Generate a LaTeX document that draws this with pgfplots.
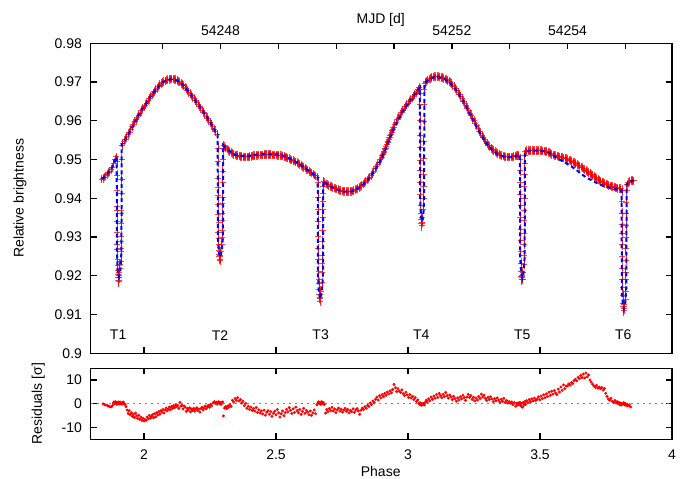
\documentclass[border=0pt]{standalone}
\usepackage{fontspec}
\setmainfont{Liberation Sans}
\usepackage{pgfplots}
\usepackage{pgfplotstable}
\pgfplotsset{compat=1.18}

% observed light curve: phase, relative brightness, error
\pgfplotstableread{
x y e
1.840 0.9450 0.0004
1.845 0.9452 0.0004
1.850 0.9455 0.0004
1.855 0.9458 0.0004
1.860 0.9462 0.0004
1.865 0.9466 0.0004
1.870 0.9469 0.0004
1.875 0.9474 0.0004
1.880 0.9480 0.0004
1.885 0.9490 0.0004
1.890 0.9500 0.0004
1.894 0.9507 0.0004
1.8980 0.9495 0.0006
1.8985 0.9460 0.0006
1.8975 0.9420 0.0006
1.8985 0.9378 0.0006
1.8980 0.9368 0.0006
1.8990 0.9340 0.0006
1.8985 0.9312 0.0006
1.8990 0.9282 0.0006
1.8995 0.9268 0.0006
1.9000 0.9242 0.0006
1.9005 0.9226 0.0006
1.9010 0.9214 0.0006
1.9020 0.9204 0.0006
1.9030 0.9196 0.0006
1.9035 0.9188 0.0006
1.9040 0.9200 0.0006
1.9050 0.9210 0.0006
1.9045 0.9185 0.0006
1.9060 0.9195 0.0006
1.9070 0.9220 0.0006
1.9080 0.9230 0.0006
1.9130 0.9238 0.0006
1.9135 0.9262 0.0006
1.9140 0.9272 0.0006
1.9130 0.9288 0.0006
1.9140 0.9302 0.0006
1.9135 0.9336 0.0006
1.9145 0.9362 0.0006
1.9140 0.9368 0.0006
1.9150 0.9412 0.0006
1.9150 0.9450 0.0006
1.9155 0.9500 0.0006
1.917 0.9536 0.0004
1.920 0.9542 0.0004
1.925 0.9548 0.0004
1.930 0.9553 0.0004
1.935 0.9559 0.0004
1.940 0.9565 0.0004
1.945 0.9571 0.0004
1.950 0.9577 0.0004
1.955 0.9585 0.0004
1.960 0.9592 0.0004
1.965 0.9598 0.0004
1.970 0.9603 0.0004
1.975 0.9609 0.0004
1.980 0.9614 0.0004
1.985 0.9620 0.0004
1.990 0.9626 0.0004
1.995 0.9631 0.0004
2.000 0.9636 0.0004
2.005 0.9641 0.0004
2.010 0.9646 0.0004
2.015 0.9652 0.0004
2.020 0.9657 0.0004
2.025 0.9662 0.0004
2.030 0.9667 0.0004
2.035 0.9672 0.0004
2.040 0.9676 0.0004
2.045 0.9680 0.0004
2.050 0.9684 0.0004
2.055 0.9689 0.0004
2.060 0.9693 0.0004
2.065 0.9696 0.0004
2.070 0.9699 0.0004
2.075 0.9701 0.0004
2.080 0.9703 0.0004
2.085 0.9705 0.0004
2.090 0.9706 0.0004
2.095 0.9707 0.0004
2.100 0.9708 0.0004
2.105 0.9708 0.0004
2.110 0.9708 0.0004
2.115 0.9707 0.0004
2.120 0.9706 0.0004
2.125 0.9704 0.0004
2.130 0.9702 0.0004
2.135 0.9700 0.0004
2.140 0.9697 0.0004
2.145 0.9694 0.0004
2.150 0.9691 0.0004
2.155 0.9687 0.0004
2.160 0.9683 0.0004
2.165 0.9678 0.0004
2.170 0.9674 0.0004
2.175 0.9670 0.0004
2.180 0.9666 0.0004
2.185 0.9661 0.0004
2.190 0.9657 0.0004
2.195 0.9652 0.0004
2.200 0.9648 0.0004
2.205 0.9643 0.0004
2.210 0.9638 0.0004
2.215 0.9633 0.0004
2.220 0.9628 0.0004
2.225 0.9623 0.0004
2.230 0.9618 0.0004
2.235 0.9612 0.0004
2.240 0.9607 0.0004
2.245 0.9602 0.0004
2.250 0.9597 0.0004
2.255 0.9591 0.0004
2.260 0.9585 0.0004
2.265 0.9579 0.0004
2.270 0.9572 0.0004
2.277 0.9565 0.0004
2.2805 0.9530 0.0006
2.2810 0.9495 0.0006
2.2800 0.9452 0.0006
2.2815 0.9428 0.0006
2.2810 0.9408 0.0006
2.2820 0.9385 0.0006
2.2815 0.9358 0.0006
2.2825 0.9338 0.0006
2.2820 0.9312 0.0006
2.2830 0.9296 0.0006
2.2835 0.9280 0.0006
2.2840 0.9266 0.0006
2.2850 0.9256 0.0006
2.2860 0.9250 0.0006
2.2870 0.9243 0.0006
2.2880 0.9240 0.0006
2.2890 0.9252 0.0006
2.2900 0.9262 0.0006
2.2950 0.9282 0.0006
2.2960 0.9298 0.0006
2.2955 0.9318 0.0006
2.2965 0.9342 0.0006
2.2960 0.9362 0.0006
2.2970 0.9388 0.0006
2.2975 0.9402 0.0006
2.2980 0.9442 0.0006
2.2985 0.9470 0.0006
2.2990 0.9500 0.0006
2.2995 0.9528 0.0006
2.302 0.9537 0.0004
2.306 0.9533 0.0004
2.310 0.9530 0.0004
2.315 0.9527 0.0004
2.320 0.9524 0.0004
2.325 0.9521 0.0004
2.330 0.9519 0.0004
2.335 0.9516 0.0004
2.340 0.9514 0.0004
2.345 0.9512 0.0004
2.350 0.9511 0.0004
2.355 0.9510 0.0004
2.360 0.9509 0.0004
2.365 0.9508 0.0004
2.370 0.9508 0.0004
2.375 0.9507 0.0004
2.380 0.9507 0.0004
2.385 0.9507 0.0004
2.390 0.9507 0.0004
2.395 0.9507 0.0004
2.400 0.9508 0.0004
2.405 0.9508 0.0004
2.410 0.9509 0.0004
2.415 0.9510 0.0004
2.420 0.9510 0.0004
2.425 0.9511 0.0004
2.430 0.9511 0.0004
2.435 0.9512 0.0004
2.440 0.9512 0.0004
2.445 0.9512 0.0004
2.450 0.9512 0.0004
2.455 0.9513 0.0004
2.460 0.9513 0.0004
2.465 0.9513 0.0004
2.470 0.9513 0.0004
2.475 0.9513 0.0004
2.480 0.9513 0.0004
2.485 0.9512 0.0004
2.490 0.9512 0.0004
2.495 0.9512 0.0004
2.500 0.9512 0.0004
2.505 0.9511 0.0004
2.510 0.9511 0.0004
2.515 0.9510 0.0004
2.520 0.9510 0.0004
2.525 0.9509 0.0004
2.530 0.9508 0.0004
2.535 0.9507 0.0004
2.540 0.9506 0.0004
2.545 0.9504 0.0004
2.550 0.9502 0.0004
2.555 0.9500 0.0004
2.560 0.9499 0.0004
2.565 0.9497 0.0004
2.570 0.9496 0.0004
2.575 0.9494 0.0004
2.580 0.9492 0.0004
2.585 0.9490 0.0004
2.590 0.9488 0.0004
2.595 0.9485 0.0004
2.600 0.9483 0.0004
2.605 0.9480 0.0004
2.610 0.9478 0.0004
2.615 0.9475 0.0004
2.620 0.9473 0.0004
2.625 0.9470 0.0004
2.630 0.9468 0.0004
2.635 0.9465 0.0004
2.640 0.9463 0.0004
2.645 0.9460 0.0004
2.650 0.9458 0.0004
2.656 0.9455 0.0004
2.6595 0.9440 0.0006
2.6590 0.9402 0.0006
2.6600 0.9372 0.0006
2.6595 0.9340 0.0006
2.6605 0.9302 0.0006
2.6600 0.9270 0.0006
2.6610 0.9242 0.0006
2.6615 0.9212 0.0006
2.6620 0.9192 0.0006
2.6625 0.9180 0.0006
2.6640 0.9165 0.0006
2.6650 0.9152 0.0006
2.6660 0.9142 0.0006
2.6670 0.9135 0.0006
2.6680 0.9145 0.0006
2.6690 0.9160 0.0006
2.6740 0.9182 0.0006
2.6750 0.9210 0.0006
2.6745 0.9232 0.0006
2.6755 0.9252 0.0006
2.6750 0.9290 0.0006
2.6760 0.9318 0.0006
2.6765 0.9350 0.0006
2.6770 0.9372 0.0006
2.6775 0.9392 0.0006
2.6780 0.9412 0.0006
2.6785 0.9432 0.0006
2.681 0.9444 0.0004
2.685 0.9440 0.0004
2.690 0.9437 0.0004
2.695 0.9435 0.0004
2.700 0.9433 0.0004
2.705 0.9431 0.0004
2.710 0.9430 0.0004
2.715 0.9428 0.0004
2.720 0.9427 0.0004
2.725 0.9425 0.0004
2.730 0.9424 0.0004
2.735 0.9422 0.0004
2.740 0.9421 0.0004
2.745 0.9420 0.0004
2.750 0.9419 0.0004
2.755 0.9418 0.0004
2.760 0.9418 0.0004
2.765 0.9417 0.0004
2.770 0.9417 0.0004
2.775 0.9417 0.0004
2.780 0.9418 0.0004
2.785 0.9418 0.0004
2.790 0.9419 0.0004
2.795 0.9420 0.0004
2.800 0.9422 0.0004
2.805 0.9424 0.0004
2.810 0.9426 0.0004
2.815 0.9428 0.0004
2.820 0.9431 0.0004
2.825 0.9434 0.0004
2.830 0.9437 0.0004
2.835 0.9440 0.0004
2.840 0.9444 0.0004
2.845 0.9447 0.0004
2.850 0.9451 0.0004
2.855 0.9455 0.0004
2.860 0.9459 0.0004
2.865 0.9464 0.0004
2.870 0.9470 0.0004
2.875 0.9476 0.0004
2.880 0.9482 0.0004
2.885 0.9488 0.0004
2.890 0.9494 0.0004
2.895 0.9500 0.0004
2.900 0.9506 0.0004
2.903 0.9510 0.0004
2.905 0.9514 0.0004
2.908 0.9518 0.0004
2.910 0.9522 0.0004
2.913 0.9526 0.0004
2.915 0.9530 0.0004
2.918 0.9535 0.0004
2.920 0.9539 0.0004
2.923 0.9544 0.0004
2.925 0.9548 0.0004
2.928 0.9553 0.0004
2.930 0.9557 0.0004
2.933 0.9562 0.0004
2.935 0.9566 0.0004
2.938 0.9571 0.0004
2.940 0.9575 0.0004
2.943 0.9579 0.0004
2.945 0.9583 0.0004
2.950 0.9590 0.0004
2.955 0.9597 0.0004
2.960 0.9603 0.0004
2.965 0.9610 0.0004
2.970 0.9616 0.0004
2.975 0.9622 0.0004
2.980 0.9627 0.0004
2.985 0.9632 0.0004
2.990 0.9637 0.0004
2.995 0.9642 0.0004
3.000 0.9646 0.0004
3.005 0.9651 0.0004
3.010 0.9655 0.0004
3.015 0.9659 0.0004
3.020 0.9663 0.0004
3.025 0.9668 0.0004
3.030 0.9672 0.0004
3.035 0.9677 0.0004
3.040 0.9682 0.0004
3.043 0.9686 0.0004
3.0455 0.9672 0.0006
3.0450 0.9642 0.0006
3.0460 0.9602 0.0006
3.0455 0.9562 0.0006
3.0465 0.9532 0.0006
3.0460 0.9498 0.0006
3.0470 0.9472 0.0006
3.0465 0.9442 0.0006
3.0475 0.9410 0.0006
3.0480 0.9382 0.0006
3.0490 0.9360 0.0006
3.0500 0.9346 0.0006
3.0510 0.9336 0.0006
3.0520 0.9330 0.0006
3.0530 0.9338 0.0006
3.0540 0.9350 0.0006
3.0580 0.9372 0.0006
3.0585 0.9400 0.0006
3.0590 0.9432 0.0006
3.0595 0.9462 0.0006
3.0600 0.9502 0.0006
3.0600 0.9548 0.0006
3.0605 0.9598 0.0006
3.0610 0.9642 0.0006
3.0615 0.9680 0.0006
3.064 0.9697 0.0004
3.067 0.9700 0.0004
3.070 0.9702 0.0004
3.075 0.9705 0.0004
3.080 0.9708 0.0004
3.085 0.9710 0.0004
3.090 0.9712 0.0004
3.095 0.9713 0.0004
3.100 0.9714 0.0004
3.105 0.9714 0.0004
3.110 0.9714 0.0004
3.115 0.9714 0.0004
3.120 0.9713 0.0004
3.125 0.9712 0.0004
3.130 0.9711 0.0004
3.135 0.9710 0.0004
3.140 0.9708 0.0004
3.145 0.9706 0.0004
3.150 0.9704 0.0004
3.155 0.9702 0.0004
3.160 0.9699 0.0004
3.165 0.9696 0.0004
3.170 0.9692 0.0004
3.175 0.9688 0.0004
3.180 0.9684 0.0004
3.185 0.9679 0.0004
3.190 0.9674 0.0004
3.195 0.9669 0.0004
3.200 0.9663 0.0004
3.205 0.9657 0.0004
3.210 0.9651 0.0004
3.215 0.9645 0.0004
3.220 0.9639 0.0004
3.225 0.9632 0.0004
3.230 0.9626 0.0004
3.235 0.9619 0.0004
3.240 0.9613 0.0004
3.245 0.9606 0.0004
3.250 0.9600 0.0004
3.255 0.9593 0.0004
3.260 0.9587 0.0004
3.265 0.9580 0.0004
3.270 0.9574 0.0004
3.275 0.9568 0.0004
3.280 0.9562 0.0004
3.285 0.9556 0.0004
3.290 0.9551 0.0004
3.295 0.9546 0.0004
3.300 0.9541 0.0004
3.305 0.9537 0.0004
3.310 0.9533 0.0004
3.315 0.9529 0.0004
3.320 0.9526 0.0004
3.325 0.9523 0.0004
3.330 0.9520 0.0004
3.335 0.9518 0.0004
3.340 0.9516 0.0004
3.345 0.9514 0.0004
3.350 0.9512 0.0004
3.355 0.9510 0.0004
3.360 0.9509 0.0004
3.365 0.9508 0.0004
3.370 0.9507 0.0004
3.375 0.9507 0.0004
3.380 0.9507 0.0004
3.385 0.9507 0.0004
3.390 0.9507 0.0004
3.395 0.9507 0.0004
3.400 0.9508 0.0004
3.405 0.9509 0.0004
3.410 0.9510 0.0004
3.415 0.9511 0.0004
3.420 0.9512 0.0004
3.4255 0.9500 0.0006
3.4250 0.9472 0.0006
3.4260 0.9442 0.0006
3.4255 0.9410 0.0006
3.4265 0.9382 0.0006
3.4260 0.9350 0.0006
3.4270 0.9320 0.0006
3.4265 0.9292 0.0006
3.4275 0.9262 0.0006
3.4280 0.9232 0.0006
3.4285 0.9212 0.0006
3.4300 0.9198 0.0006
3.4310 0.9190 0.0006
3.4320 0.9195 0.0006
3.4330 0.9200 0.0006
3.4340 0.9192 0.0006
3.4350 0.9210 0.0006
3.4390 0.9230 0.0006
3.4395 0.9252 0.0006
3.4400 0.9282 0.0006
3.4395 0.9310 0.0006
3.4405 0.9342 0.0006
3.4400 0.9370 0.0006
3.4410 0.9400 0.0006
3.4405 0.9432 0.0006
3.4415 0.9462 0.0006
3.4420 0.9490 0.0006
3.4425 0.9512 0.0006
3.445 0.9522 0.0004
3.450 0.9523 0.0004
3.455 0.9523 0.0004
3.460 0.9523 0.0004
3.465 0.9523 0.0004
3.470 0.9523 0.0004
3.475 0.9523 0.0004
3.480 0.9523 0.0004
3.485 0.9523 0.0004
3.490 0.9523 0.0004
3.495 0.9523 0.0004
3.500 0.9523 0.0004
3.505 0.9523 0.0004
3.510 0.9522 0.0004
3.515 0.9522 0.0004
3.520 0.9521 0.0004
3.525 0.9520 0.0004
3.530 0.9519 0.0004
3.535 0.9518 0.0004
3.540 0.9516 0.0004
3.545 0.9514 0.0004
3.550 0.9512 0.0004
3.555 0.9511 0.0004
3.560 0.9510 0.0004
3.565 0.9509 0.0004
3.570 0.9508 0.0004
3.575 0.9507 0.0004
3.580 0.9506 0.0004
3.585 0.9505 0.0004
3.590 0.9504 0.0004
3.595 0.9503 0.0004
3.600 0.9502 0.0004
3.605 0.9500 0.0004
3.610 0.9499 0.0004
3.615 0.9497 0.0004
3.620 0.9495 0.0004
3.625 0.9494 0.0004
3.630 0.9492 0.0004
3.635 0.9490 0.0004
3.640 0.9488 0.0004
3.645 0.9486 0.0004
3.650 0.9483 0.0004
3.655 0.9481 0.0004
3.660 0.9479 0.0004
3.665 0.9476 0.0004
3.670 0.9474 0.0004
3.675 0.9471 0.0004
3.680 0.9469 0.0004
3.685 0.9466 0.0004
3.690 0.9464 0.0004
3.695 0.9461 0.0004
3.700 0.9459 0.0004
3.705 0.9456 0.0004
3.710 0.9454 0.0004
3.715 0.9451 0.0004
3.720 0.9449 0.0004
3.725 0.9446 0.0004
3.730 0.9444 0.0004
3.735 0.9442 0.0004
3.740 0.9440 0.0004
3.745 0.9438 0.0004
3.750 0.9437 0.0004
3.755 0.9435 0.0004
3.760 0.9434 0.0004
3.765 0.9432 0.0004
3.770 0.9431 0.0004
3.775 0.9430 0.0004
3.780 0.9429 0.0004
3.785 0.9428 0.0004
3.790 0.9427 0.0004
3.795 0.9426 0.0004
3.800 0.9426 0.0004
3.805 0.9425 0.0004
3.8105 0.9420 0.0006
3.8100 0.9392 0.0006
3.8110 0.9362 0.0006
3.8105 0.9332 0.0006
3.8115 0.9310 0.0006
3.8110 0.9280 0.0006
3.8120 0.9250 0.0006
3.8115 0.9220 0.0006
3.8125 0.9190 0.0006
3.8130 0.9170 0.0006
3.8140 0.9150 0.0006
3.8150 0.9130 0.0006
3.8160 0.9120 0.0006
3.8170 0.9110 0.0006
3.8180 0.9115 0.0006
3.8190 0.9125 0.0006
3.8240 0.9140 0.0006
3.8245 0.9160 0.0006
3.8250 0.9190 0.0006
3.8245 0.9210 0.0006
3.8255 0.9240 0.0006
3.8250 0.9270 0.0006
3.8260 0.9300 0.0006
3.8255 0.9330 0.0006
3.8265 0.9360 0.0006
3.8270 0.9390 0.0006
3.8275 0.9420 0.0006
3.830 0.9436 0.0004
3.835 0.9440 0.0004
3.840 0.9444 0.0004
3.845 0.9446 0.0004
3.850 0.9446 0.0004
3.855 0.9445 0.0004
}\obs

% model light curve
\pgfplotstableread{
x y
1.840 0.9450
1.860 0.9462
1.880 0.9480
1.890 0.9500
1.8965 0.9507
1.8975 0.9260
1.9005 0.9212
1.9045 0.9198
1.9100 0.9210
1.9145 0.9262
1.9155 0.9538
1.930 0.9553
1.950 0.9577
1.970 0.9603
1.990 0.9626
2.010 0.9646
2.030 0.9667
2.050 0.9684
2.070 0.9699
2.090 0.9706
2.110 0.9708
2.130 0.9702
2.150 0.9691
2.170 0.9674
2.190 0.9657
2.210 0.9638
2.230 0.9618
2.250 0.9597
2.270 0.9572
2.2790 0.9565
2.2800 0.9300
2.2830 0.9262
2.2880 0.9248
2.2950 0.9265
2.2990 0.9300
2.3000 0.9537
2.320 0.9524
2.340 0.9514
2.360 0.9510
2.380 0.9509
2.400 0.9510
2.420 0.9512
2.440 0.9514
2.460 0.9515
2.480 0.9515
2.500 0.9514
2.520 0.9512
2.540 0.9507
2.560 0.9500
2.580 0.9492
2.600 0.9483
2.620 0.9473
2.640 0.9463
2.6580 0.9455
2.6590 0.9200
2.6620 0.9160
2.6670 0.9140
2.6740 0.9160
2.6780 0.9200
2.6790 0.9444
2.700 0.9433
2.720 0.9426
2.740 0.9420
2.760 0.9417
2.780 0.9417
2.800 0.9421
2.820 0.9430
2.840 0.9442
2.860 0.9458
2.880 0.9479
2.900 0.9503
2.920 0.9535
2.940 0.9570
2.960 0.9600
2.980 0.9624
3.000 0.9644
3.020 0.9662
3.0450 0.9686
3.0460 0.9400
3.0490 0.9355
3.0530 0.9340
3.0580 0.9355
3.0610 0.9400
3.0620 0.9697
3.080 0.9707
3.100 0.9713
3.120 0.9712
3.140 0.9707
3.160 0.9697
3.180 0.9682
3.200 0.9661
3.220 0.9637
3.240 0.9611
3.260 0.9585
3.280 0.9560
3.300 0.9539
3.320 0.9524
3.340 0.9514
3.360 0.9508
3.380 0.9506
3.400 0.9507
3.4240 0.9512
3.4250 0.9250
3.4280 0.9208
3.4330 0.9195
3.4380 0.9208
3.4420 0.9250
3.4430 0.9520
3.460 0.9522
3.480 0.9523
3.500 0.9523
3.520 0.9521
3.540 0.9515
3.560 0.9506
3.580 0.9498
3.600 0.9490
3.620 0.9482
3.640 0.9472
3.660 0.9461
3.680 0.9452
3.700 0.9445
3.720 0.9438
3.740 0.9432
3.760 0.9428
3.780 0.9424
3.8090 0.9421
3.8100 0.9170
3.8130 0.9130
3.8175 0.9115
3.8230 0.9130
3.8270 0.9170
3.8280 0.9436
3.840 0.9444
3.855 0.9445
}\model

% residuals in units of sigma
\pgfplotstableread{
x r
1.845 0.0
1.850 -0.3
1.856 -0.5
1.862 -0.8
1.867 -1.0
1.872 -1.3
1.877 -1.2
1.881 -0.6
1.884 0.3
1.886 0.8
1.888 0.5
1.890 0.1
1.892 0.9
1.894 0.4
1.896 0.0
1.898 -0.2
1.900 0.6
1.902 0.2
1.904 0.8
1.906 -0.1
1.908 0.4
1.910 0.7
1.912 0.1
1.914 0.3
1.916 -0.2
1.918 0.5
1.921 0.8
1.924 0.2
1.928 -0.3
1.932 -1.2
1.936 -2.6
1.940 -4.1
1.944 -2.9
1.948 -4.6
1.952 -3.8
1.956 -5.3
1.960 -4.4
1.964 -5.8
1.968 -3.9
1.972 -5.1
1.976 -6.2
1.980 -4.8
1.984 -6.5
1.988 -5.6
1.992 -7.0
1.996 -6.1
2.000 -7.3
2.004 -6.6
2.008 -7.0
2.012 -5.6
2.016 -6.3
2.020 -4.9
2.024 -6.1
2.028 -5.4
2.032 -4.6
2.036 -5.9
2.040 -4.2
2.044 -5.5
2.048 -3.8
2.052 -4.7
2.056 -3.3
2.060 -4.4
2.064 -2.9
2.068 -3.6
2.072 -2.4
2.076 -3.9
2.080 -2.6
2.084 -1.8
2.088 -3.0
2.092 -2.2
2.096 -1.4
2.100 -2.5
2.104 -1.1
2.108 -1.9
2.112 -0.8
2.116 -1.6
2.120 -0.5
2.124 -1.2
2.128 -0.7
2.132 -1.9
2.136 0.6
2.140 -1.0
2.144 -0.6
2.148 -2.2
2.152 -0.9
2.156 -1.4
2.160 -3.2
2.164 -2.0
2.168 -2.6
2.172 -1.7
2.176 -3.4
2.180 -2.2
2.184 -2.8
2.188 -1.9
2.192 -3.1
2.196 -2.3
2.200 -1.7
2.204 -2.9
2.208 -2.2
2.212 -3.5
2.216 -2.0
2.220 -1.4
2.224 -2.6
2.228 -1.8
2.232 -0.9
2.236 -2.1
2.240 -1.2
2.244 -0.6
2.248 -1.5
2.252 -0.3
2.256 -0.9
2.262 0.4
2.266 0.9
2.270 0.2
2.274 0.7
2.277 -0.1
2.280 0.5
2.283 0.9
2.286 0.1
2.289 0.6
2.292 -0.2
2.295 0.4
2.298 0.8
2.301 -5.1
2.305 -1.8
2.309 -1.2
2.313 -2.0
2.317 -0.9
2.321 -1.5
2.325 -0.4
2.330 -1.1
2.335 1.5
2.340 0.7
2.345 2.2
2.350 1.4
2.355 2.6
2.360 1.2
2.365 1.8
2.370 0.3
2.375 1.1
2.380 -0.8
2.385 0.2
2.390 -1.9
2.395 -1.0
2.400 -2.4
2.405 -1.4
2.410 -2.8
2.415 -2.0
2.420 -3.1
2.425 -1.6
2.430 -3.6
2.435 -2.5
2.440 -3.9
2.445 -3.0
2.450 -4.3
2.455 -2.7
2.460 -4.8
2.465 -3.6
2.470 -2.9
2.475 -4.4
2.480 -3.3
2.485 -5.3
2.490 -4.0
2.495 -3.1
2.500 -4.6
2.505 -2.4
2.510 -3.8
2.515 -5.6
2.520 -4.2
2.525 -3.0
2.530 -5.0
2.535 -3.7
2.540 -2.3
2.545 -3.4
2.550 -1.6
2.555 -2.7
2.560 -4.1
2.565 -2.1
2.570 -3.6
2.575 -1.4
2.580 -2.9
2.585 -3.8
2.590 -2.4
2.595 -4.5
2.600 -3.2
2.605 -1.9
2.610 -4.0
2.615 -2.8
2.620 -3.5
2.625 -4.6
2.630 -3.0
2.635 -4.9
2.640 -3.8
2.645 -2.6
2.650 -4.2
2.655 -0.4
2.658 0.3
2.661 0.8
2.664 0.1
2.667 0.6
2.670 -0.2
2.673 0.9
2.676 0.2
2.679 0.5
2.683 -0.3
2.688 -3.9
2.692 -2.4
2.697 -3.3
2.702 -2.0
2.707 -2.9
2.712 -1.5
2.717 -3.0
2.722 -2.2
2.727 -3.7
2.732 -2.5
2.737 -1.8
2.742 -3.1
2.747 -2.3
2.752 -3.5
2.757 -2.7
2.762 -1.9
2.767 -3.2
2.772 -2.4
2.777 -3.8
2.782 -2.8
2.787 -3.3
2.792 -2.1
2.797 -3.6
2.802 -2.6
2.807 -2.0
2.812 -3.0
2.817 -4.4
2.822 -2.7
2.827 -1.8
2.832 -2.4
2.837 -1.2
2.842 -1.9
2.847 -0.6
2.852 -1.1
2.857 0.4
2.862 -0.3
2.867 1.2
2.872 0.5
2.877 1.9
2.882 2.8
2.887 1.6
2.892 3.4
2.897 2.5
2.902 3.9
2.907 3.0
2.912 4.4
2.917 3.6
2.922 5.0
2.927 4.2
2.932 5.5
2.937 4.6
2.942 6.0
2.947 8.2
2.952 6.8
2.957 5.2
2.962 6.4
2.967 5.4
2.972 4.8
2.977 5.9
2.982 4.3
2.987 3.5
2.992 4.9
2.997 3.8
3.002 2.7
3.007 3.9
3.012 2.5
3.017 3.2
3.022 1.8
3.027 2.6
3.032 1.0
3.037 1.7
3.041 0.3
3.044 -0.2
3.047 0.4
3.050 -0.6
3.053 0.1
3.056 -0.4
3.059 0.2
3.062 -0.5
3.065 0.6
3.069 1.5
3.073 0.8
3.078 2.1
3.083 1.3
3.088 2.8
3.093 1.9
3.098 3.3
3.103 2.4
3.108 3.9
3.113 2.7
3.118 4.4
3.123 3.4
3.128 2.6
3.133 4.0
3.138 3.0
3.143 4.8
3.148 3.5
3.153 2.4
3.158 3.7
3.163 2.9
3.168 1.8
3.173 3.2
3.178 2.2
3.183 1.1
3.188 2.5
3.193 1.6
3.198 3.0
3.203 2.1
3.208 3.6
3.213 2.6
3.218 1.5
3.223 2.9
3.228 4.0
3.233 2.7
3.238 3.5
3.243 1.9
3.248 2.8
3.253 1.3
3.258 2.4
3.263 1.6
3.268 3.1
3.273 2.2
3.278 4.1
3.283 2.9
3.288 3.6
3.293 2.3
3.298 1.4
3.303 2.7
3.308 1.8
3.313 3.0
3.318 2.0
3.323 0.9
3.328 2.2
3.333 1.3
3.338 2.5
3.343 1.6
3.348 0.7
3.353 1.9
3.358 1.1
3.363 2.3
3.368 0.6
3.373 1.4
3.378 0.3
3.383 1.0
3.388 0.2
3.393 0.8
3.398 -0.3
3.403 0.5
3.408 -1.0
3.412 0.2
3.415 -0.5
3.418 0.4
3.421 -0.3
3.424 0.6
3.427 -0.8
3.430 0.2
3.433 -1.4
3.436 0.5
3.439 -0.6
3.442 0.9
3.445 -0.2
3.449 1.3
3.454 0.5
3.459 1.8
3.464 0.9
3.469 2.1
3.474 1.2
3.479 2.4
3.484 1.4
3.489 2.0
3.494 2.9
3.499 1.7
3.504 3.3
3.509 2.2
3.514 3.8
3.519 2.6
3.524 4.2
3.529 3.1
3.534 4.9
3.539 3.6
3.544 5.3
3.549 4.1
3.554 5.6
3.559 4.6
3.564 3.9
3.569 6.2
3.574 5.0
3.579 7.1
3.584 5.7
3.589 8.0
3.594 6.4
3.599 7.5
3.604 7.6
3.609 8.4
3.614 7.9
3.619 9.0
3.624 8.6
3.629 9.8
3.634 10.4
3.639 9.7
3.644 11.2
3.649 10.6
3.654 12.0
3.659 11.1
3.664 12.6
3.669 10.9
3.674 13.0
3.679 11.4
3.684 12.2
3.689 10.1
3.694 9.2
3.699 8.3
3.704 7.6
3.709 7.0
3.714 7.8
3.719 6.6
3.724 7.1
3.729 6.4
3.734 6.9
3.739 5.8
3.744 6.5
3.749 4.4
3.754 3.1
3.759 2.0
3.764 1.5
3.769 2.3
3.774 1.0
3.779 0.6
3.784 1.4
3.789 0.4
3.793 0.9
3.796 0.1
3.799 0.6
3.802 -0.3
3.805 0.3
3.808 -0.5
3.811 0.2
3.814 -0.1
3.817 0.5
3.820 -0.4
3.823 0.1
3.826 -0.7
3.829 -0.2
3.833 -0.9
3.838 -0.4
3.843 -1.3
}\res

\pgfplotsset{
  panel/.style={
    scale only axis, anchor=south west, width=436pt,
    axis line style={line width=1pt}, every tick/.style={black,line width=1pt},
    tick align=inside, major tick length=4.5pt,
    /pgf/number format/assume math mode=true,
    tick label style={font=\fontsize{10.5}{12}\selectfont},
    yticklabel style={xshift=-3pt},
    clip=true,
  }
}

\begin{document}
\begin{tikzpicture}[x=0.75pt,y=0.75pt,font=\fontsize{10.5}{12}\selectfont]
\path[use as bounding box] (0,0) rectangle (688,478);

% light curve panel: observations
\begin{axis}[panel, at={(68.0pt,93.5pt)}, height=232.5pt,
  xmin=1.798, xmax=4, ymin=0.9, ymax=0.98,
  xtick={2,2.5,3,3.5,4}, xticklabels={}, xtick pos=bottom, ytick pos=both,
  ytick={0.9,0.91,0.92,0.93,0.94,0.95,0.96,0.97,0.98},
  yticklabels={0.9,0.91,0.92,0.93,0.94,0.95,0.96,0.97,0.98}]
\addplot[only marks, red, mark=+, mark size=2.3pt, line width=0.6pt,
  mark options={opacity=0.75},
  error bars/.cd, y dir=both, y explicit,
  error bar style={red,line width=0.6pt,opacity=0.75},
  error mark options={red, mark size=2.1pt, line width=0.6pt,opacity=0.75}]
  table[x=x, y=y, y error=e] {\obs};
\node at (axis cs:1.902,0.9047) {T1};
\node at (axis cs:2.288,0.9047) {T2};
\node at (axis cs:2.669,0.9047) {T3};
\node at (axis cs:3.050,0.9047) {T4};
\node at (axis cs:3.433,0.9047) {T5};
\node at (axis cs:3.815,0.9047) {T6};
\end{axis}

% same panel: model drawn over the observations
\begin{axis}[panel, at={(68.0pt,93.5pt)}, height=232.5pt, hide axis,
  xmin=1.798, xmax=4, ymin=0.9, ymax=0.98]
\addplot[blue, line width=1.5pt, dash pattern=on 3pt off 2.2pt]
  table[x=x, y=y] {\model};
\end{axis}

% MJD axis on top (days after 54247)
\begin{axis}[panel, at={(68.0pt,93.5pt)}, height=232.5pt,
  xmin=-1.245, xmax=8.807, ymin=0, ymax=1,
  axis x line*=top, axis y line=none,
  xtick={0,1,2,3,4,5,6,7,8},
  xticklabels={,54248,,,,54252,,54254,},
  xticklabel style={yshift=2pt}]
\end{axis}

% residual panel
\begin{axis}[panel, at={(68.0pt,29.0pt)}, height=53.25pt,
  xmin=1.798, xmax=4, ymin=-15, ymax=15,
  xtick={2,2.5,3,3.5,4}, ytick={-10,0,10},
  xtick pos=both, ytick pos=both,
  xticklabel style={yshift=-4pt}]
\addplot[gray, line width=1pt, dash pattern=on 1.5pt off 3pt] coordinates {(1.798,0) (4,0)};
\addplot[only marks, red, mark=*, mark size=0.9pt] table[x=x, y=r] {\res};
\end{axis}

\node[rotate=90] at (20,279.7) {Relative brightness};
\node[rotate=90] at (38.3,74.2) {Residuals [σ]};
\node at (380.7,7) {Phase};
\node[anchor=base] at (380.7,454) {MJD [d]};
\end{tikzpicture}
\end{document}
